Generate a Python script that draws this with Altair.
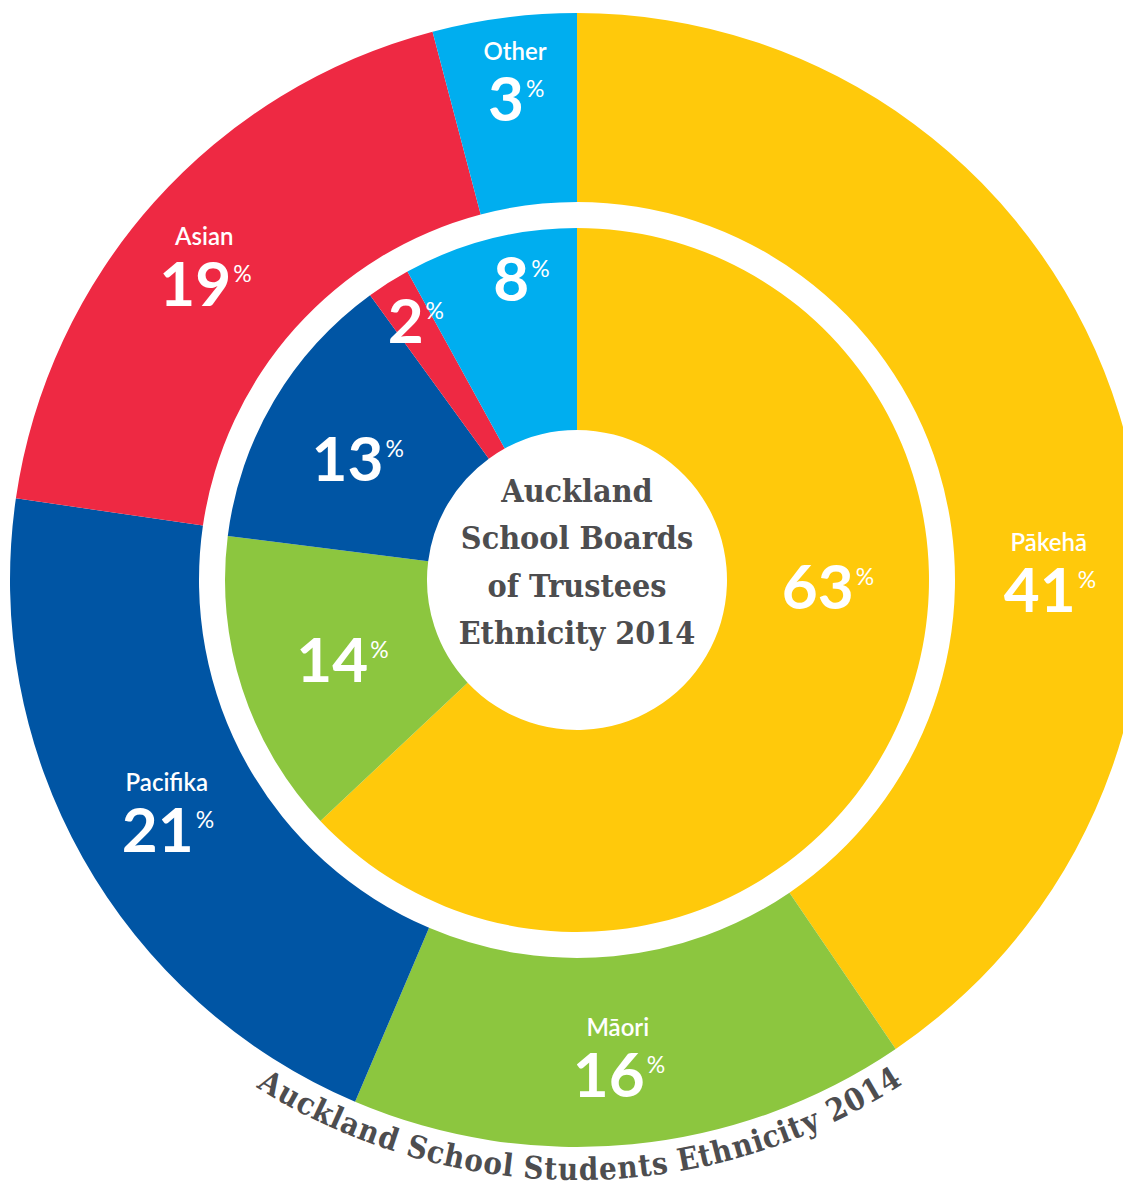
import math
import altair as alt
import pandas as pd

# ---------------- data ----------------
groups = ["Pākehā", "Māori", "Pacifika", "Asian", "Other"]
colors = ["#FFC90B", "#8CC63F", "#0055A4", "#EE2943", "#00AEEF"]

# outer ring: Auckland school students (arc shares as drawn, labels as printed)
students_share = [40.5, 15.9, 20.9, 18.6, 4.1]
students_label = ["41", "16", "21", "19", "3"]

# inner ring: Auckland school boards of trustees
trustees_share = [63, 14, 13, 2, 8]
trustees_label = ["63", "14", "13", "2", "8"]

center_title = ["Auckland", "School Boards", "of Trustees", "Ethnicity 2014"]
ring_title = "Auckland School Students Ethnicity 2014"

# ---------------- layout ----------------
W, H = 1115, 1176
CX, CY = 569, 572
R_OUT, R_OUT_IN = 567, 378
R_IN, R_IN_IN = 352, 150
OUT_LABEL_R = 482
IN_LABEL_R, IN_LABEL_R_SMALL = 250, 303
# label anchor tweaks (percent of the circle / pixels) where the designer moved labels off the slice middle
label_theta_override = {
    "outer": {"Pākehā": 25.44, "Māori": 48.7, "Pacifika": 66.2, "Asian": 85.6},
    "inner": {"Pākehā": 25.65, "Māori": 69.6, "Pacifika": 82.8, "Other": 97.0},
}
label_r_override = {"outer": {"Pākehā": 472, "Māori": 500, "Asian": 474}, "inner": {}}

NUM_FONT = "Lato"
NUM_SIZE = 62
DIGIT_W = 0.58 * NUM_SIZE
TITLE_FONT = "DejaVu Serif Condensed, DejaVu Serif"
GREY = "#4D4D4F"

theta_scale = alt.Scale(domain=[0, 100])


def ring_df(share, label, ring):
    rows, cum = [], 0.0
    for i, (g, s, l) in enumerate(zip(groups, share, label)):
        mid = label_theta_override[ring].get(g, cum + s / 2)
        if ring == "outer":
            r = OUT_LABEL_R
        else:
            r = IN_LABEL_R_SMALL if s < 10 else IN_LABEL_R
        r = label_r_override[ring].get(g, r)
        rows.append(dict(group=g, idx=i, share=s, num=l, nd=len(l), pos=mid, r=r))
        cum += s
    return pd.DataFrame(rows)


outer = ring_df(students_share, students_label, "outer")
inner = ring_df(trustees_share, trustees_label, "inner")

color_enc = alt.Color("group:N", scale=alt.Scale(domain=groups, range=colors), legend=None)


def ring(df, r1, r2):
    return alt.Chart(df).mark_arc(radius=r1, radius2=r2, strokeWidth=0).encode(
        theta=alt.Theta("share:Q", stack=True, scale=theta_scale),
        color=color_enc,
        order=alt.Order("idx:Q"),
        x=alt.value(CX),
        y=alt.value(CY),
    )


def polar_text(df, **mark):
    return alt.Chart(df).mark_text(color="white", **mark).encode(
        theta=alt.Theta("pos:Q", stack=False, scale=theta_scale),
        radius=alt.Radius("r:Q", scale=None),
        x=alt.value(CX),
        y=alt.value(CY),
    )


def number_layers(df):
    layers = [
        polar_text(df, font=NUM_FONT, fontWeight="bold", fontSize=NUM_SIZE,
                   align="center", baseline="middle", dx=-9).encode(text="num:N")
    ]
    for n in (1, 2):
        layers.append(
            polar_text(df, font=NUM_FONT, fontWeight="normal", fontSize=23,
                       align="left", baseline="middle", dx=-9 + n * DIGIT_W / 2 + 2, dy=-12)
            .transform_filter(f"datum.nd == {n}")
            .encode(text=alt.value("%"))
        )
    return layers


names = polar_text(outer, font=NUM_FONT, fontWeight=600, fontSize=24,
                   align="center", baseline="middle", dy=-49).encode(text="group:N")

# centre title
title_df = pd.DataFrame({"k": [0]})
title = alt.Chart(title_df).mark_text(
    text=center_title, font=TITLE_FONT, fontWeight="bold", fontSize=32,
    lineHeight=47.3, color=GREY, align="center", baseline="middle"
).encode(x=alt.value(CX), y=alt.value(CY - 88))

# curved title along the bottom of the outer ring
cw = {"A": .78, "S": .72, "E": .73, "a": .65, "b": .70, "c": .59, "d": .70, "e": .64,
      "h": .74, "i": .38, "k": .70, "l": .38, "n": .74, "o": .67, "s": .57, "t": .47,
      "u": .74, "y": .66, " ": .35}
widths = [cw.get(c, .70) for c in ring_title]
centers, acc = [], 0.0
for w in widths:
    centers.append(acc + w / 2)
    acc += w
A0, A1 = 211.3, 148.0  # clockwise degrees of first and last glyph centres
rows = []
for c, s in zip(ring_title, centers):
    if c == " ":
        continue
    deg = A0 + (A1 - A0) * (s - centers[0]) / (centers[-1] - centers[0])
    rows.append(dict(ch=c, pos=deg / 3.6, rot=(deg - 180) % 360, r=600))
curve_df = pd.DataFrame(rows)
curve = alt.Chart(curve_df).mark_text(
    font=TITLE_FONT, fontWeight="bold", fontSize=31, color=GREY,
    align="center", baseline="alphabetic"
).encode(
    theta=alt.Theta("pos:Q", stack=False, scale=theta_scale),
    radius=alt.Radius("r:Q", scale=None),
    angle=alt.Angle("rot:Q", scale=None),
    text="ch:N",
    x=alt.value(CX),
    y=alt.value(CY),
)

chart = alt.layer(
    ring(outer, R_OUT, R_OUT_IN),
    ring(inner, R_IN, R_IN_IN),
    names,
    *number_layers(outer),
    *number_layers(inner),
    title,
    curve,
).properties(
    width=W, height=H, padding=0, background="white",
    autosize=alt.AutoSizeParams(type="none"),
).configure_view(strokeWidth=0)

chart.save("out.html", embed_options={"renderer": "svg", "actions": False})
